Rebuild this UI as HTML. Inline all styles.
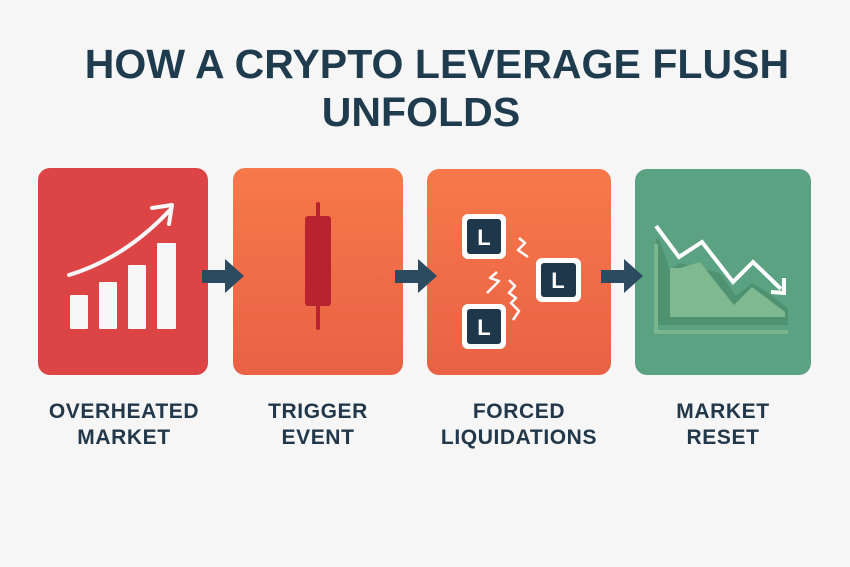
<!DOCTYPE html>
<html><head><style>
body{margin:0;width:850px;height:567px;background:#f6f6f6;font-family:"Liberation Sans",sans-serif;overflow:hidden;position:relative}
.t{position:absolute;left:0;width:850px;text-align:center;font-weight:bold;font-size:41px;color:#1f3b4e;letter-spacing:0.05px}
.l{position:absolute;text-align:center;font-weight:bold;font-size:21px;color:#22384a;line-height:26px;letter-spacing:0.6px}
</style></head><body>
<div class="t" style="top:41px;left:12px">HOW A CRYPTO LEVERAGE FLUSH</div>
<div class="t" style="top:89px;left:-4px">UNFOLDS</div>
<svg width="850" height="567" style="position:absolute;left:0;top:0">
<defs>
<linearGradient id="o" x1="0" y1="0" x2="0" y2="1"><stop offset="0" stop-color="#f7794a"/><stop offset="1" stop-color="#ea6145"/></linearGradient>
</defs>
<rect x="38" y="168" width="170" height="207" rx="12" fill="#dc4446"/>
<rect x="233" y="168" width="170" height="207" rx="12" fill="url(#o)"/>
<rect x="427" y="169" width="184" height="206" rx="12" fill="url(#o)"/>
<rect x="635" y="169" width="176" height="206" rx="12" fill="#5aa282"/>
<g fill="#f7f7f7">
<rect x="70" y="295" width="18" height="34" rx="1"/>
<rect x="99" y="282" width="18" height="47" rx="1"/>
<rect x="128" y="265" width="18" height="64" rx="1"/>
<rect x="157" y="243" width="19" height="86" rx="1"/>
</g>
<path d="M69 275 Q125 258 170 210" stroke="#f7f7f7" stroke-width="4" fill="none" stroke-linecap="round"/>
<path d="M152 208 L172 205 L169 224" stroke="#f7f7f7" stroke-width="4" fill="none" stroke-linecap="round" stroke-linejoin="round"/>
<rect x="316" y="202" width="4" height="128" rx="2" fill="#b8232f"/>
<rect x="305" y="216" width="26" height="90" rx="3" fill="#b8232f"/>
<g fill="#2c4a60">
<path d="M202 270 H225 V259 L244 276 L225 293 V283 H202 Z"/>
<path d="M395 270 H418 V259 L437 276 L418 293 V283 H395 Z"/>
<path d="M601 270 H624 V259 L643 276 L624 293 V283 H601 Z"/>
</g>
<g>
<rect x="462" y="214" width="44" height="45" rx="6" fill="#fff"/><rect x="467" y="219" width="34" height="35" rx="3" fill="#1f374b"/>
<rect x="536" y="258" width="45" height="44" rx="6" fill="#fff"/><rect x="541" y="263" width="35" height="34" rx="3" fill="#1f374b"/>
<rect x="462" y="304" width="44" height="45" rx="6" fill="#fff"/><rect x="467" y="309" width="34" height="35" rx="3" fill="#1f374b"/>
</g>
<g font-family="Liberation Sans" font-weight="bold" font-size="22" fill="#fff" text-anchor="middle">
<text x="484" y="245">L</text><text x="558" y="288">L</text><text x="484" y="335">L</text>
</g>
<g stroke="#fff" stroke-width="2.5" fill="none" stroke-linejoin="round">
<path d="M519 238 L525 243 L518 250 L528 257"/>
<path d="M497 272 L490 278 L499 281 L487 293"/>
<path d="M509 280 L515 286 L509 293 L516 298 L511 303 L519 311 L513 320"/>
</g>
<path d="M656 238 V325 H788 V309 L772 295 L752 283 L736 296 L720 273 L700 268 L680 263 L670 270 L660 241 Z" fill="#4e9272"/>
<path d="M670 268 L680 268 L700 262 L718 285 L734 305 L752 287 L785 312 V317 H670 Z" fill="#7fb98f"/>
<path d="M656 244 V332 H788" stroke="#7bb58e" stroke-width="4" fill="none"/>
<path d="M656 226 L679 257 L702 242 L733 282 L753 262 L781 289" stroke="#fff" stroke-width="4" fill="none" stroke-linejoin="miter"/>
<path d="M771 292 L784 293 L784 278" stroke="#fff" stroke-width="4" fill="none"/>
</svg>
<div class="l" style="left:28px;width:192px;top:399px">OVERHEATED<br>MARKET</div>
<div class="l" style="left:223px;width:190px;top:399px">TRIGGER<br>EVENT</div>
<div class="l" style="left:419px;width:200px;top:399px">FORCED<br>LIQUIDATIONS</div>
<div class="l" style="left:628px;width:190px;top:399px">MARKET<br>RESET</div>
</body></html>
